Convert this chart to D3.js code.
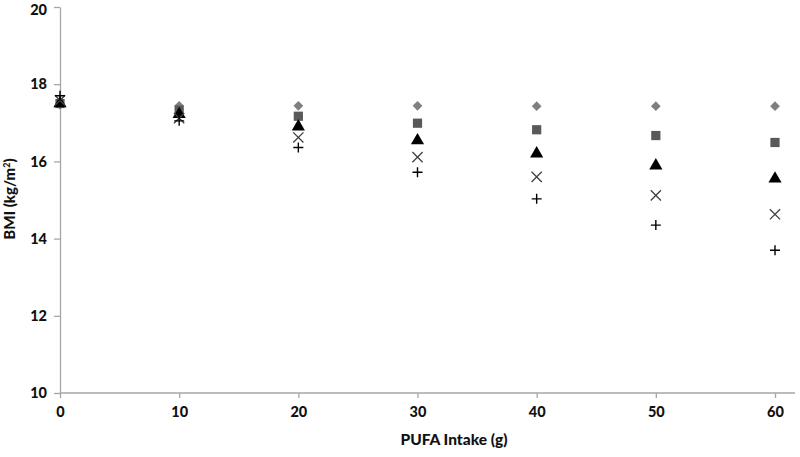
<!DOCTYPE html>
<html>
<head>
<meta charset="utf-8">
<script src="https://cdn.jsdelivr.net/npm/d3@7"></script>
<style>
  body { margin: 0; background: #fff; }
  text { font-family: Lato, "Open Sans", sans-serif; font-weight: 900; fill: #111; }
</style>
</head>
<body>
<div class="d3-container"></div>
<script>
const pufa = [0, 10, 20, 30, 40, 50, 60];
const diamondVals = [17.47, 17.44, 17.44, 17.44, 17.43, 17.43, 17.43];
const squareVals = [17.5, 17.33, 17.17, 16.99, 16.82, 16.67, 16.49];
const triangleVals = [17.5, 17.22, 16.9, 16.54, 16.2, 15.89, 15.55];
const crossVals = [17.58, 17.12, 16.62, 16.11, 15.6, 15.12, 14.63];
const plusVals = [17.7, 17.05, 16.36, 15.72, 15.03, 14.35, 13.7];
const xTicks = [0, 10, 20, 30, 40, 50, 60];
const yTicks = [10, 12, 14, 16, 18, 20];

const width = 800;
const height = 457;
const margin = {top: 7, bottom: 64, left: 60, right: 25};

const svg = d3.select(".d3-container")
  .append("svg")
  .attr("width", width)
  .attr("height", height)
  .attr("viewBox", [0, 0, width, height]);

const x = d3.scaleLinear()
  .domain([0, 60])
  .range([margin.left, 775]);

const y = d3.scaleLinear()
  .domain([10, 20])
  .range([height - margin.bottom, margin.top]);

// axes
function xAxis(g) {
  g.attr("transform", `translate(0, ${y(10)})`)
    .call(d3.axisBottom(x).tickValues(xTicks).tickSize(5).tickSizeOuter(0).tickPadding(9));
  g.select(".domain").attr("d", `M${x(0)},0H${width - 5}`);
}

function yAxis(g) {
  g.attr("transform", `translate(${x(0)}, 0)`)
    .call(d3.axisLeft(y).tickValues(yTicks).tickSize(6).tickSizeOuter(0).tickPadding(7));
  // keep the top label inside the page
  g.selectAll(".tick text").filter(d => d === 20).attr("dy", "0.5em");
}

svg.append("g").call(xAxis);
svg.append("g").call(yAxis);

svg.selectAll(".domain, .tick line").attr("stroke", "#a6a6a6").attr("stroke-width", 1.3);
svg.selectAll(".tick text").attr("font-size", 14.5).attr("fill", "#111");

// titles
svg.append("text")
  .attr("x", 454)
  .attr("y", 445)
  .attr("text-anchor", "middle")
  .attr("font-size", 15.5)
  .text("PUFA Intake (g)");

svg.append("text")
  .attr("transform", `translate(15, 199) rotate(-90)`)
  .attr("text-anchor", "middle")
  .attr("font-size", 15)
  .html('BMI (kg/m<tspan dy="-5" font-size="9">2</tspan><tspan dy="5">)</tspan>');

// series
const series = [
  {vals: diamondVals, type: d3.symbolDiamond2, size: 60, fill: "#7f7f7f", stroke: "none"},
  {vals: squareVals, type: d3.symbolSquare, size: 85, fill: "#595959", stroke: "none"},
  {vals: triangleVals, type: d3.symbolTriangle, size: 75, fill: "#000", stroke: "none"},
  {vals: crossVals, type: d3.symbolTimes, size: 70, fill: "none", stroke: "#404040"},
  {vals: plusVals, type: d3.symbolCross, size: 0, fill: "none", stroke: "#000", plus: true}
];

series.forEach(s => {
  const g = svg.append("g");
  const pts = pufa.map((p, i) => ({p, v: s.vals[i]}));
  if (s.plus) {
    g.selectAll("path")
      .data(pts)
      .join("path")
      .attr("transform", d => `translate(${x(d.p)},${y(d.v)})`)
      .attr("d", "M-5,0H5M0,-5V5")
      .attr("stroke", s.stroke)
      .attr("stroke-width", 1.4)
      .attr("fill", "none");
  } else {
    g.selectAll("path")
      .data(pts)
      .join("path")
      .attr("transform", d => `translate(${x(d.p)},${y(d.v)})`)
      .attr("d", d3.symbol(s.type, s.size))
      .attr("fill", s.fill)
      .attr("stroke", s.stroke)
      .attr("stroke-width", 1.3);
  }
});
</script>
</body>
</html>
